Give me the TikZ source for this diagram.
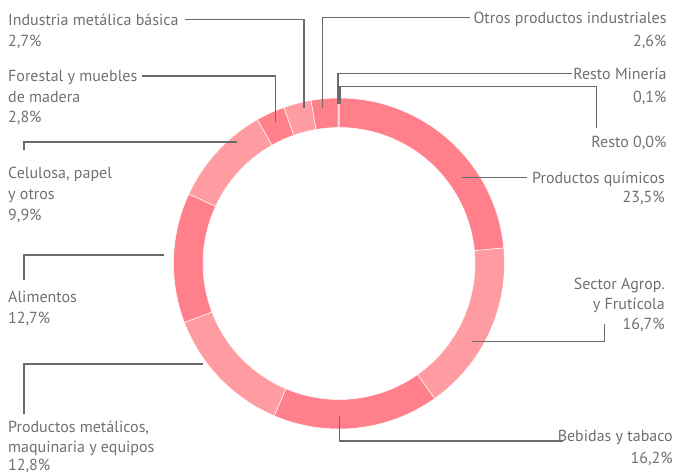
\documentclass[tikz,border=0pt]{standalone}
\usepackage{fontspec}
\setmainfont{PT Sans}
\definecolor{ringA}{HTML}{FF808A}
\definecolor{ringB}{HTML}{FF9CA1}
\definecolor{txt}{HTML}{707070}
\definecolor{lead}{HTML}{6A6A6A}
\begin{document}
\begin{tikzpicture}[x=1pt,y=-1pt,
  lbl/.style={font=\fontsize{16}{19}\selectfont, text=txt, inner sep=0pt},
  lw/.style={lbl, anchor=base west},
  le/.style={lbl, anchor=base east},
  leader/.style={draw=lead, line width=1.2pt}]
\useasboundingbox (0,0) rectangle (675,475);
% ring
\begin{scope}[shift={(339,263.5)}, y=1pt]
\foreach \a/\b/\c in {90/5.4/ringA, 5.4/-54.72/ringB, -54.72/-113.04/ringA,
  -113.04/-159.12/ringB, -159.12/-204.84/ringA, -204.84/-240.48/ringB,
  -240.48/-250.56/ringA, -250.56/-260.28/ringB, -260.28/-269.64/ringA,
  -269.64/-270/ringB}
  \filldraw[fill=\c, draw=white, line width=0.5pt] (\a:165.5) arc[start angle=\a, end angle=\b, radius=165.5]
    -- (\b:136) arc[start angle=\b, end angle=\a, radius=136] -- cycle;
\end{scope}
% labels left
\node[lw] (ind1) at (8,25) {Industria metálica básica};
\node[lw] (ind2) at (8,46.2) {2,7\%};
\node[lw] (for1) at (8,81.7) {Forestal y muebles};
\node[lw] (for2) at (8,102.2) {de madera};
\node[lw] (for3) at (8,122.7) {2,8\%};
\node[lw] (cel1) at (8,178.7) {Celulosa, papel};
\node[lw] (cel2) at (8,199.2) {y otros};
\node[lw] (cel3) at (8,220.7) {9,9\%};
\node[lw] (ali1) at (8,302.2) {Alimentos};
\node[lw] (ali2) at (8,323.5) {12,7\%};
\node[lw] (met1) at (8,432.2) {Productos metálicos,};
\node[lw] (met2) at (8,452.7) {maquinaria y equipos};
\node[lw] (met3) at (8,470.5) {12,8\%};
% labels right
\node[le] (otr1) at (666.7,23) {Otros productos industriales};
\node[le] (otr2) at (666.7,46.4) {2,6\%};
\node[le] (rmi1) at (666.7,79) {Resto Minería};
\node[le] (rmi2) at (666.7,102.7) {0,1\%};
\node[le] (res1) at (666.7,147.4) {Resto 0,0\%};
\node[le] (qui1) at (665,183) {Productos químicos};
\node[le] (qui2) at (665,202.4) {23,5\%};
\node[le] (agr1) at (665,289.7) {Sector Agrop.};
\node[le] (agr2) at (665,309.7) {y Frutícola};
\node[le] (agr3) at (665,329.7) {16,7\%};
\node[le] (beb1) at (673,441) {Bebidas y tabaco};
\node[le] (beb2) at (673,463.7) {16,2\%};
% leader end points
\coordinate (indA) at (185,19.3);   \coordinate (indB) at (304,108);
\coordinate (forA) at (141.7,76);   \coordinate (forB) at (275.7,121.7);
\coordinate (celA) at (24,150);     \coordinate (celB) at (237,142);
\coordinate (aliA) at (24,280);     \coordinate (aliB) at (164,255);
\coordinate (metA) at (24,414);     \coordinate (metB) at (202.7,364);
\coordinate (bebA) at (563,441);    \coordinate (bebB) at (339.3,416);
\coordinate (agrA) at (604.3,324.3);\coordinate (agrB) at (471.7,341.7);
\coordinate (quiA) at (526.7,177.3);\coordinate (quiB) at (461.7,177.3);
\coordinate (otrA) at (470,17.3);   \coordinate (otrB) at (322.7,108);
\coordinate (rmiA) at (571.7,73.3); \coordinate (rmiB) at (338,104);
\coordinate (resA) at (596.7,127.7);\coordinate (resK) at (340,86.7); \coordinate (resB) at (340,104);
% leaders
\draw[leader] (indA) -| (indB);
\draw[leader] (forA) -| (forB);
\draw[leader] (celA) |- (celB);
\draw[leader] (aliA) |- (aliB);
\draw[leader] (metA) |- (metB);
\draw[leader] (bebA) -| (bebB);
\draw[leader] (agrA) |- (agrB);
\draw[leader] (quiA) -- (quiB);
\draw[leader] (otrA) -| (otrB);
\draw[leader] (rmiA) -| (rmiB);
\draw[leader] (resA) |- (resK) -- (resB);
\end{tikzpicture}
\end{document}
